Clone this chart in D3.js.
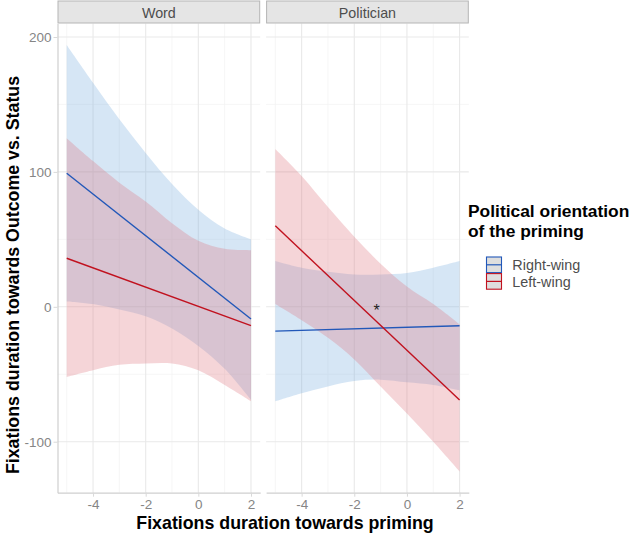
<!DOCTYPE html>
<html>
<head>
<meta charset="utf-8">
<script src="https://cdn.jsdelivr.net/npm/d3@7"></script>
<style>
  body { margin: 0; background: #fff; }
  text { font-family: "Liberation Sans", Arial, sans-serif; }
</style>
</head>
<body>
<script>
// values
const xVals = [-5, -4, -3, -2, -1, 0, 1, 2];
const lineX = [-5, 2];
const panelNames = ["Word", "Politician"];
const groupNames = ["Right-wing", "Left-wing"];

// fitted lines: value at x = -5 and x = 2
const wordRightFit = [99, -9];
const wordLeftFit = [36, -14];
const polRightFit = [-18, -14];
const polLeftFit = [60, -69];

// confidence bands at xVals
const wordRightUpper = [194, 166, 139, 114, 91, 72, 58, 50];
const wordRightLower = [4, 2, -2, -7, -16, -29, -46, -69];
const wordLeftUpper = [125, 108, 92, 78, 62, 49, 43, 42];
const wordLeftLower = [-52, -47, -43, -42, -42, -47, -58, -70];
const polRightUpper = [34, 29, 26, 24, 24, 25, 29, 34];
const polRightLower = [-70, -64, -59, -55, -54, -56, -58, -62];
const polLeftUpper = [117, 97, 74, 52, 32, 15, 2, -13];
const polLeftLower = [2, -10, -23, -39, -59, -79, -100, -122];

const xMajor = [-4, -2, 0, 2];
const xMinor = [-5, -3, -1, 1];
const yMajor = [-100, 0, 100, 200];
const yMinor = [-50, 50, 150];

const star = { panel: "Politician", x: -1.15, y: 0, label: "*" };

const colors = { "Right-wing": "#2258b9", "Left-wing": "#c1121f" };
const fills = { "Right-wing": "rgb(118,172,222)", "Left-wing": "rgb(222,115,125)" };

const series = {
  "Word": [
    { group: "Right-wing", fit: wordRightFit, lo: wordRightLower, hi: wordRightUpper },
    { group: "Left-wing", fit: wordLeftFit, lo: wordLeftLower, hi: wordLeftUpper }
  ],
  "Politician": [
    { group: "Right-wing", fit: polRightFit, lo: polRightLower, hi: polRightUpper },
    { group: "Left-wing", fit: polLeftFit, lo: polLeftLower, hi: polLeftUpper }
  ]
};

const w = 630, h = 535;
const panelLeft = 57.5, panelW = 202.7, gap = 5.9;
const panelTop = 23.5, panelBottom = 492.7, stripTop = 1;

const svg = d3.select("body").append("svg")
  .attr("width", w)
  .attr("height", h);

const yScale = d3.scaleLinear().domain([-137.8, 210]).range([panelBottom, panelTop]);

panelNames.forEach((name, i) => {
  const x0 = panelLeft + i * (panelW + gap);
  const xScale = d3.scaleLinear().domain([-5.35, 2.35]).range([x0, x0 + panelW]);
  const g = svg.append("g");

  // grid
  g.selectAll(".xminor").data(xMinor).enter().append("line")
    .attr("x1", d => xScale(d)).attr("x2", d => xScale(d))
    .attr("y1", panelTop).attr("y2", panelBottom)
    .attr("stroke", "#f2f2f2").attr("stroke-width", 0.7);
  g.selectAll(".yminor").data(yMinor).enter().append("line")
    .attr("x1", x0).attr("x2", x0 + panelW)
    .attr("y1", d => yScale(d)).attr("y2", d => yScale(d))
    .attr("stroke", "#f2f2f2").attr("stroke-width", 0.7);
  g.selectAll(".xmajor").data(xMajor).enter().append("line")
    .attr("x1", d => xScale(d)).attr("x2", d => xScale(d))
    .attr("y1", panelTop).attr("y2", panelBottom)
    .attr("stroke", "#e9e9e9").attr("stroke-width", 1.1);
  g.selectAll(".ymajor").data(yMajor).enter().append("line")
    .attr("x1", x0).attr("x2", x0 + panelW)
    .attr("y1", d => yScale(d)).attr("y2", d => yScale(d))
    .attr("stroke", "#e9e9e9").attr("stroke-width", 1.1);

  // strip
  g.append("rect")
    .attr("x", x0 + 0.5).attr("y", stripTop)
    .attr("width", panelW - 1).attr("height", panelTop - stripTop - 0.5)
    .attr("fill", "#e5e5e5").attr("stroke", "#b5b5b5").attr("stroke-width", 1);
  g.append("text")
    .attr("x", x0 + panelW / 2).attr("y", 18)
    .attr("text-anchor", "middle")
    .style("font-size", "14.3px").style("fill", "#4d4d4d")
    .text(name);

  // ribbons then lines
  const area = d3.area()
    .x((d, j) => xScale(xVals[j]))
    .y0(d => yScale(d[0]))
    .y1(d => yScale(d[1]))
    .curve(d3.curveCatmullRom);
  const line = d3.line()
    .x((d, j) => xScale(lineX[j]))
    .y(d => yScale(d));

  series[name].forEach(s => {
    g.append("path")
      .datum(s.lo.map((v, j) => [v, s.hi[j]]))
      .attr("d", area)
      .attr("fill", fills[s.group])
      .attr("fill-opacity", 0.3);
  });
  series[name].forEach(s => {
    g.append("path")
      .datum(s.fit)
      .attr("d", line)
      .attr("fill", "none")
      .attr("stroke", colors[s.group])
      .attr("stroke-width", 1.4);
  });

  if (star.panel === name) {
    g.append("text")
      .attr("x", xScale(star.x)).attr("y", yScale(star.y))
      .attr("dy", "0.6em")
      .attr("text-anchor", "middle")
      .style("font-size", "16px").style("fill", "#222")
      .text(star.label);
  }

  // axes
  const xAxis = g.append("g")
    .attr("transform", `translate(0, ${panelBottom})`)
    .call(d3.axisBottom(xScale).tickValues(xMajor).tickSize(4).tickSizeOuter(0).tickPadding(2.6));
  xAxis.select(".domain").attr("stroke", "#cfcfcf").attr("stroke-width", 1.2);
  xAxis.selectAll(".tick line").attr("stroke", "#d9d9d9");
  xAxis.selectAll(".tick text")
    .attr("font-family", null)
    .style("font-size", "13.5px").style("fill", "#858585")
    .text(d => d < 0 ? "-" + Math.abs(d) : d);

  if (i === 0) {
    const yAxis = g.append("g")
      .attr("transform", `translate(${x0}, 0)`)
      .call(d3.axisLeft(yScale).tickValues(yMajor).tickSize(4).tickSizeOuter(0).tickPadding(2));
    yAxis.select(".domain").attr("stroke", "#cfcfcf").attr("stroke-width", 1.2);
    yAxis.selectAll(".tick line").attr("stroke", "#d9d9d9");
    yAxis.selectAll(".tick text")
      .attr("font-family", null)
      .style("font-size", "13.5px").style("fill", "#858585")
      .text(d => d < 0 ? "-" + Math.abs(d) : d);
  }
});

// axis titles
svg.append("text")
  .attr("x", 285).attr("y", 528.5)
  .attr("text-anchor", "middle")
  .style("font-size", "17.8px").style("font-weight", "bold").style("fill", "#000")
  .text("Fixations duration towards priming");

svg.append("text")
  .attr("transform", "translate(18.5, 275) rotate(-90)")
  .attr("text-anchor", "middle")
  .style("font-size", "17.8px").style("font-weight", "bold").style("fill", "#000")
  .text("Fixations duration towards Outcome vs. Status");

// legend
const legend = svg.append("g").attr("transform", "translate(468, 0)");
["Political orientation", "of the priming"].forEach((t, i) => {
  legend.append("text")
    .attr("x", 0).attr("y", 216.5 + i * 20.5)
    .style("font-size", "17.4px").style("font-weight", "bold").style("fill", "#000")
    .text(t);
});
groupNames.forEach((gName, i) => {
  const ky = 256.5 + i * 16.6;
  legend.append("rect")
    .attr("x", 18.5).attr("y", ky + 0.5)
    .attr("width", 15).attr("height", 15.6)
    .attr("fill", "#dedede").attr("stroke", colors[gName]).attr("stroke-width", 1.1);
  legend.append("line")
    .attr("x1", 18.5).attr("x2", 33.5)
    .attr("y1", ky + 8.3).attr("y2", ky + 8.3)
    .attr("stroke", colors[gName]).attr("stroke-width", 1.2);
  legend.append("text")
    .attr("x", 44.3).attr("y", ky + 13.5)
    .style("font-size", "14.4px").style("font-weight", "normal").style("fill", "#4d4d4d")
    .text(gName);
});
</script>
</body>
</html>
